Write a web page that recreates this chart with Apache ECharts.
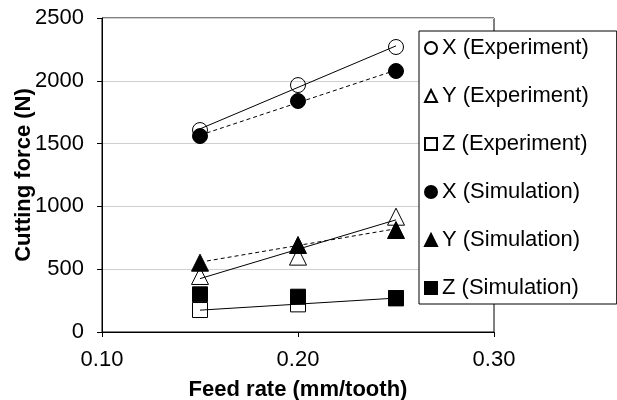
<!DOCTYPE html>
<html>
<head>
<meta charset="utf-8">
<script src="https://cdn.jsdelivr.net/npm/echarts@6/dist/echarts.min.js"></script>
<style>
  html, body { margin: 0; padding: 0; background: #fff; }
  #chart { width: 617px; height: 400px; }
</style>
</head>
<body>
<div id="chart"></div>
<script>
// feed rate (mm/tooth) of the measured points
var feedRates = [0.15, 0.20, 0.25];
// cutting force (N)
var xExp = [1608, 1966, 2269];
var yExp = [446, 600, 918];
var zExp = [175, 220, 270];
var xSim = [1560, 1839, 2078];
var ySim = [552, 693, 812];
var zSim = [300, 281, 268];
// trend lines, value at first and last feed rate
var trendFeed = [0.15, 0.25];
var xExpTrend = [1617, 2278];
var xSimTrend = [1567, 2085];
var yExpTrend = [425, 893];
var ySimTrend = [556, 822];
var zExpTrend = [174, 270];
var xTicks = [0.10, 0.20, 0.30];
var yTicks = [0, 500, 1000, 1500, 2000, 2500];

var font = '"Liberation Sans", Arial, sans-serif';

function pts(xs, ys) {
    return xs.map(function (x, i) { return [x, ys[i]]; });
}

function points(name, symbol, size, filled, vals) {
    return {
        name: name,
        type: 'scatter',
        symbol: symbol,
        symbolSize: size,
        itemStyle: filled
            ? { color: '#000', borderColor: '#000', borderWidth: 1, opacity: 1 }
            : { color: 'transparent', borderColor: '#000', borderWidth: 1, opacity: 1 },
        data: pts(feedRates, vals),
        z: filled ? 4 : 3
    };
}

function trend(vals, dashed) {
    return {
        type: 'line',
        symbol: 'none',
        silent: true,
        lineStyle: { color: '#000', width: 1, type: dashed ? [4, 3] : 'solid' },
        data: pts(trendFeed, vals),
        z: 5
    };
}

var chart = echarts.init(document.getElementById('chart'));

chart.setOption({
    animation: false,
    backgroundColor: '#fff',
    textStyle: { fontFamily: font },
    grid: {
        left: 102, right: 123, top: 18, bottom: 68,
        containLabel: false, outerBoundsMode: 'none',
        show: true, borderColor: '#000', borderWidth: 1
    },
    legend: {
        orient: 'vertical',
        left: 419, top: 31,
        padding: [6, 28, 5, 5],
        itemGap: 26,
        itemWidth: 12, itemHeight: 12,
        backgroundColor: '#fff',
        borderColor: '#000', borderWidth: 1,
        textStyle: { fontFamily: font, fontSize: 22, color: '#000' },
        data: [
            { name: 'X (Experiment)', icon: 'circle' },
            { name: 'Y (Experiment)', icon: 'triangle' },
            { name: 'Z (Experiment)', icon: 'rect' },
            { name: 'X (Simulation)', icon: 'circle' },
            { name: 'Y (Simulation)', icon: 'triangle' },
            { name: 'Z (Simulation)', icon: 'rect' }
        ]
    },
    xAxis: {
        type: 'value',
        min: xTicks[0], max: xTicks[xTicks.length - 1], interval: 0.1,
        name: 'Feed rate (mm/tooth)',
        nameLocation: 'middle', nameGap: 47, nameMoveOverlap: false,
        nameTextStyle: { fontFamily: font, fontSize: 22, fontWeight: 'bold', color: '#000' },
        axisLine: { lineStyle: { color: '#000' } },
        axisTick: { show: true, length: 5, lineStyle: { color: '#000' } },
        axisLabel: {
            fontFamily: font, fontSize: 22, color: '#000', margin: 17,
            formatter: function (v) { return v.toFixed(2); }
        },
        splitLine: { show: false }
    },
    yAxis: {
        type: 'value',
        min: yTicks[0], max: yTicks[yTicks.length - 1], interval: 500,
        name: 'Cutting force (N)',
        nameLocation: 'middle', nameGap: 67, nameMoveOverlap: false,
        nameTextStyle: { fontFamily: font, fontSize: 22, fontWeight: 'bold', color: '#000' },
        axisLine: { show: true, lineStyle: { color: '#000' } },
        axisTick: { show: true, length: 5, lineStyle: { color: '#000' } },
        axisLabel: {
            fontFamily: font, fontSize: 22, color: '#000', margin: 18,
            formatter: function (v) { return String(v); }
        },
        splitLine: { show: true, lineStyle: { color: '#cfcfcf', width: 1 } }
    },
    series: [
        points('X (Experiment)', 'circle', 15, false, xExp),
        points('Y (Experiment)', 'triangle', 17, false, yExp),
        points('Z (Experiment)', 'rect', 15, false, zExp),
        points('X (Simulation)', 'circle', 15, true, xSim),
        points('Y (Simulation)', 'triangle', 17, true, ySim),
        points('Z (Simulation)', 'rect', 15, true, zSim),
        trend(xExpTrend, false),
        trend(yExpTrend, false),
        trend(zExpTrend, false),
        trend(xSimTrend, true),
        trend(ySimTrend, true)
    ]
});
</script>
</body>
</html>
